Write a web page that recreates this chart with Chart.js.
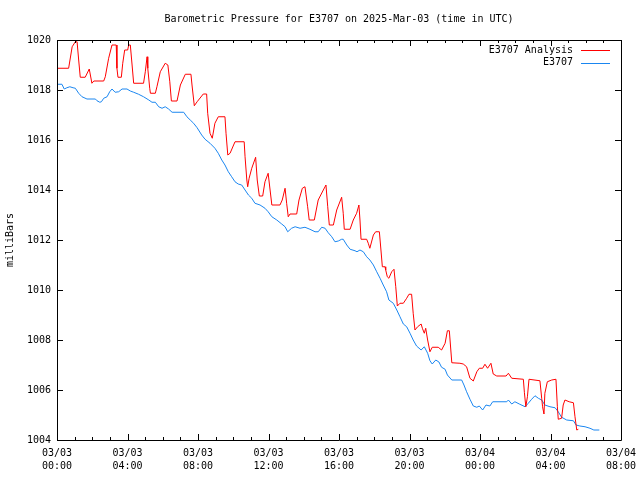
<!DOCTYPE html>
<html>
<head>
<meta charset="utf-8">
<script src="https://cdn.jsdelivr.net/npm/chart.js@4.4.1/dist/chart.umd.min.js"></script>
<style>
  body { margin: 0; background: #fff; }
  canvas { display: block; }
</style>
</head>
<body>
<canvas id="pressureChart" width="640" height="480"></canvas>
<script>
// Data (hours since 03/03 00:00 UTC, millibars)
const redHours = [0, 0.66, 0.86, 1.04, 1.14, 1.23, 1.32, 1.60, 1.83, 1.98, 2.09, 2.65, 2.74, 2.93, 3.12, 3.36, 3.40, 3.46, 3.65, 3.73,
    3.84, 4.01, 4.07, 4.16, 4.26, 4.35, 4.91, 5.01, 5.11, 5.15, 5.26, 5.30, 5.58, 5.67, 5.86, 6.14, 6.29, 6.40, 6.49, 6.81,
    7.00, 7.28, 7.60, 7.66, 7.79, 7.95, 8.30, 8.49, 8.55, 8.68, 8.81, 8.96, 9.15, 9.53, 9.59, 9.69, 9.82, 10.10, 10.62, 10.67,
    10.77, 10.82, 10.90, 11.05, 11.27, 11.36, 11.48, 11.67, 11.80, 11.98, 12.09, 12.19, 12.65, 12.78, 12.94, 13.03, 13.12, 13.22, 13.60, 13.73,
    13.92, 14.07, 14.22, 14.31, 14.60, 14.82, 15.11, 15.26, 15.36, 15.45, 15.68, 15.87, 16.15, 16.24, 16.30, 16.63, 16.81, 17.00, 17.13, 17.19,
    17.25, 17.57, 17.66, 17.75, 17.95, 18.08, 18.29, 18.38, 18.46, 18.61, 18.65, 18.74, 18.83, 18.99, 19.12, 19.22, 19.31, 19.46, 19.65, 19.84,
    19.97, 20.12, 20.21, 20.31, 20.46, 20.66, 20.73, 20.84, 20.92, 21.03, 21.16, 21.29, 21.63, 21.82, 22.02, 22.15, 22.26, 22.40, 22.86, 23.05,
    23.24, 23.43, 23.62, 23.82, 23.96, 24.15, 24.28, 24.43, 24.62, 24.75, 24.95, 25.48, 25.61, 25.80, 26.46, 26.52, 26.60, 26.69, 26.78, 27.40,
    27.50, 27.55, 27.63, 27.68, 27.82, 28.07, 28.31, 28.39, 28.44, 28.63, 28.72, 28.82, 29.06, 29.30, 29.39, 29.49, 29.58];
const redValues = [1018.87, 1018.87, 1019.73, 1019.93, 1019.93, 1019.20, 1018.51, 1018.51, 1018.84, 1018.27, 1018.36, 1018.36, 1018.53, 1019.27, 1019.80, 1019.80, 1018.87, 1018.51, 1018.51, 1019.07,
    1019.60, 1019.60, 1019.80, 1019.80, 1019.00, 1018.27, 1018.27, 1018.73, 1019.33, 1018.87, 1018.07, 1017.87, 1017.87, 1018.13, 1018.73, 1019.07, 1019.00, 1018.33, 1017.56, 1017.56,
    1018.20, 1018.63, 1018.63, 1018.20, 1017.37, 1017.53, 1017.84, 1017.84, 1017.07, 1016.27, 1016.07, 1016.67, 1016.93, 1016.93, 1016.27, 1015.40, 1015.47, 1015.93, 1015.93, 1015.33,
    1014.40, 1014.13, 1014.47, 1014.87, 1015.31, 1014.40, 1013.76, 1013.76, 1014.33, 1014.67, 1014.00, 1013.40, 1013.40, 1013.60, 1014.07, 1013.47, 1012.93, 1013.04, 1013.04, 1013.60,
    1014.07, 1014.13, 1013.33, 1012.80, 1012.80, 1013.60, 1014.00, 1014.20, 1013.33, 1012.60, 1012.60, 1013.20, 1013.71, 1013.07, 1012.43, 1012.43, 1012.80, 1013.07, 1013.40, 1012.80,
    1012.03, 1012.03, 1011.87, 1011.67, 1012.20, 1012.33, 1012.33, 1011.60, 1010.93, 1010.93, 1010.80, 1010.53, 1010.47, 1010.73, 1010.83, 1010.13, 1009.36, 1009.47, 1009.47, 1009.67,
    1009.83, 1009.83, 1009.07, 1008.40, 1008.53, 1008.64, 1008.47, 1008.27, 1008.47, 1008.00, 1007.53, 1007.71, 1007.71, 1007.60, 1007.87, 1008.37, 1008.37, 1007.09, 1007.07, 1007.04,
    1006.93, 1006.47, 1006.36, 1006.73, 1006.87, 1006.87, 1007.03, 1006.87, 1007.07, 1006.64, 1006.56, 1006.56, 1006.67, 1006.47, 1006.43, 1005.89, 1005.33, 1005.73, 1006.43, 1006.37,
    1005.67, 1005.33, 1005.04, 1005.87, 1006.33, 1006.40, 1006.43, 1005.33, 1004.83, 1004.87, 1005.40, 1005.60, 1005.53, 1005.49, 1004.93, 1004.40, 1004.43];

const blueHours = [0, 0.28, 0.41, 0.56, 0.73, 0.91, 1.04, 1.23, 1.42, 1.70, 2.18, 2.27, 2.43, 2.52, 2.65, 2.84, 2.99, 3.12, 3.30, 3.50,
    3.69, 3.97, 4.16, 4.35, 4.63, 4.91, 5.21, 5.39, 5.58, 5.77, 5.96, 6.14, 6.33, 6.53, 7.19, 7.37, 7.56, 7.75, 7.95, 8.21,
    8.40, 8.68, 8.96, 9.15, 9.35, 9.53, 9.72, 9.91, 10.10, 10.28, 10.48, 10.67, 10.86, 11.05, 11.23, 11.52, 11.80, 11.98, 12.19, 12.47,
    12.75, 12.94, 13.09, 13.31, 13.51, 13.79, 14.07, 14.35, 14.64, 14.82, 15.02, 15.21, 15.39, 15.59, 15.77, 15.96, 16.15, 16.24, 16.44, 16.63,
    16.91, 17.02, 17.19, 17.38, 17.57, 17.75, 17.95, 18.14, 18.33, 18.51, 18.70, 18.83, 19.08, 19.28, 19.46, 19.65, 19.84, 20.03, 20.21, 20.40,
    20.66, 20.84, 21.03, 21.16, 21.29, 21.49, 21.67, 21.82, 22.02, 22.15, 22.40, 22.96, 23.09, 23.24, 23.43, 23.62, 23.82, 23.96, 24.15, 24.34,
    24.56, 24.72, 25.52, 25.61, 25.80, 25.98, 26.26, 26.56, 26.74, 26.93, 27.12, 27.31, 27.50, 27.68, 27.97, 28.26, 28.44, 28.63, 28.92, 29.30,
    29.45, 29.67, 29.96, 30.24, 30.46, 30.77];
const blueValues = [1018.23, 1018.23, 1018.04, 1018.09, 1018.13, 1018.09, 1018.07, 1017.87, 1017.73, 1017.64, 1017.64, 1017.57, 1017.51, 1017.53, 1017.67, 1017.73, 1017.93, 1018.04, 1017.91, 1017.93,
    1018.04, 1018.04, 1017.96, 1017.91, 1017.83, 1017.73, 1017.60, 1017.51, 1017.51, 1017.33, 1017.27, 1017.33, 1017.24, 1017.11, 1017.11, 1016.93, 1016.80, 1016.67, 1016.49, 1016.20,
    1016.03, 1015.87, 1015.67, 1015.47, 1015.20, 1015.00, 1014.73, 1014.53, 1014.33, 1014.24, 1014.20, 1014.00, 1013.80, 1013.67, 1013.47, 1013.40, 1013.27, 1013.13, 1012.93, 1012.80,
    1012.64, 1012.53, 1012.33, 1012.47, 1012.53, 1012.47, 1012.51, 1012.43, 1012.33, 1012.33, 1012.51, 1012.47, 1012.29, 1012.13, 1011.93, 1011.96, 1012.03, 1012.03, 1011.80, 1011.63,
    1011.57, 1011.53, 1011.60, 1011.53, 1011.33, 1011.20, 1011.00, 1010.73, 1010.47, 1010.20, 1009.93, 1009.60, 1009.47, 1009.20, 1008.93, 1008.64, 1008.53, 1008.27, 1008.00, 1007.76,
    1007.60, 1007.73, 1007.47, 1007.17, 1007.04, 1007.20, 1007.12, 1006.91, 1006.83, 1006.60, 1006.40, 1006.40, 1006.20, 1005.93, 1005.63, 1005.36, 1005.31, 1005.36, 1005.20, 1005.40,
    1005.36, 1005.53, 1005.53, 1005.60, 1005.44, 1005.53, 1005.43, 1005.33, 1005.47, 1005.63, 1005.77, 1005.67, 1005.60, 1005.40, 1005.33, 1005.29, 1005.13, 1004.91, 1004.80, 1004.77,
    1004.60, 1004.56, 1004.53, 1004.47, 1004.40, 1004.40];

const xTickDates = ['03/03', '03/03', '03/03', '03/03', '03/03', '03/03', '03/04', '03/04', '03/04'];
const xTickTimes = ['00:00', '04:00', '08:00', '12:00', '16:00', '20:00', '00:00', '04:00', '08:00'];
const seriesNames = ['E3707 Analysis', 'E3707'];
const seriesColors = ['#ff0000', '#1a86f0'];
const chartTitle = 'Barometric Pressure for E3707 on 2025-Mar-03 (time in UTC)';

const monoFont = { family: "'DejaVu Sans Mono', 'Liberation Mono', monospace", size: 10 };

function toPoints(hours, values) {
    return hours.map((h, i) => ({ x: h, y: values[i] }));
}

// gnuplot-like title, frame, inward ticks and inside legend
const gnuplotFrame = {
    id: 'gnuplotFrame',
    afterDraw(chart) {
        const ctx = chart.ctx;
        const area = chart.chartArea;
        const xs = chart.scales.x;
        const ys = chart.scales.y;
        ctx.save();
        ctx.font = `${monoFont.size}px ${monoFont.family}`;
        ctx.fillStyle = '#000';
        ctx.textAlign = 'center';
        ctx.textBaseline = 'middle';
        ctx.fillText(chartTitle, (area.left + area.right) / 2, 19);

        ctx.strokeStyle = '#000';
        ctx.lineWidth = 1;
        ctx.beginPath();
        ctx.rect(Math.round(area.left) + 0.5, Math.round(area.top) + 0.5,
            Math.round(area.right - area.left), Math.round(area.bottom - area.top));
        ctx.stroke();

        ctx.beginPath();
        for (let h = 0; h <= 32; h++) {
            const px = Math.round(xs.getPixelForValue(h)) + 0.5;
            const len = h % 4 === 0 ? 6 : 3;
            ctx.moveTo(px, area.bottom);
            ctx.lineTo(px, area.bottom - len);
            ctx.moveTo(px, area.top);
            ctx.lineTo(px, area.top + len);
        }
        for (let v = 1004; v <= 1020; v += 2) {
            const py = Math.round(ys.getPixelForValue(v)) + 0.5;
            ctx.moveTo(area.left, py);
            ctx.lineTo(area.left + 6, py);
            ctx.moveTo(area.right, py);
            ctx.lineTo(area.right - 6, py);
        }
        ctx.stroke();

        // legend
        ctx.textAlign = 'right';
        seriesNames.forEach((name, i) => {
            const y = area.top + 10 + i * 12.5;
            ctx.fillStyle = '#000';
            ctx.fillText(name, area.right - 48, y);
            ctx.strokeStyle = seriesColors[i];
            ctx.beginPath();
            ctx.moveTo(area.right - 40, Math.round(y) + 0.5);
            ctx.lineTo(area.right - 11, Math.round(y) + 0.5);
            ctx.stroke();
        });
        ctx.restore();
    }
};

const ctx = document.getElementById('pressureChart').getContext('2d');
const pressureChart = new Chart(ctx, {
    type: 'line',
    data: {
        datasets: [{
            label: seriesNames[0],
            data: toPoints(redHours, redValues),
            borderColor: seriesColors[0],
            borderWidth: 1,
            pointRadius: 0,
            tension: 0
        }, {
            label: seriesNames[1],
            data: toPoints(blueHours, blueValues),
            borderColor: seriesColors[1],
            borderWidth: 1,
            pointRadius: 0,
            tension: 0
        }]
    },
    options: {
        responsive: false,
        animation: false,
        layout: { autoPadding: false, padding: { left: 0, right: 19, top: 40, bottom: 0 } },
        plugins: {
            legend: { display: false },
            tooltip: { enabled: false },
            title: { display: false }
        },
        scales: {
            x: {
                type: 'linear',
                min: 0,
                max: 32,
                grid: { display: false, drawTicks: false },
                border: { display: false },
                ticks: {
                    stepSize: 4,
                    maxRotation: 0,
                    autoSkip: false,
                    padding: 7,
                    color: '#000',
                    font: { ...monoFont, lineHeight: 1.3 },
                    callback: (value, index) => [xTickDates[index], xTickTimes[index]]
                },
                afterFit: (scale) => {
                    scale.height = 40;
                    scale.paddingLeft = 0;
                    scale.paddingRight = 0;
                }
            },
            y: {
                min: 1004,
                max: 1020,
                grid: { display: false, drawTicks: false },
                border: { display: false },
                ticks: {
                    stepSize: 2,
                    padding: 6,
                    color: '#000',
                    font: monoFont,
                    callback: (value) => String(value)
                },
                title: { display: true, text: 'milliBars', color: '#000', font: monoFont, padding: { top: 4, bottom: 4 } },
                afterFit: (scale) => {
                    scale.width = 57;
                    scale.paddingTop = 0;
                    scale.paddingBottom = 0;
                }
            }
        }
    },
    plugins: [gnuplotFrame]
});
</script>
</body>
</html>
